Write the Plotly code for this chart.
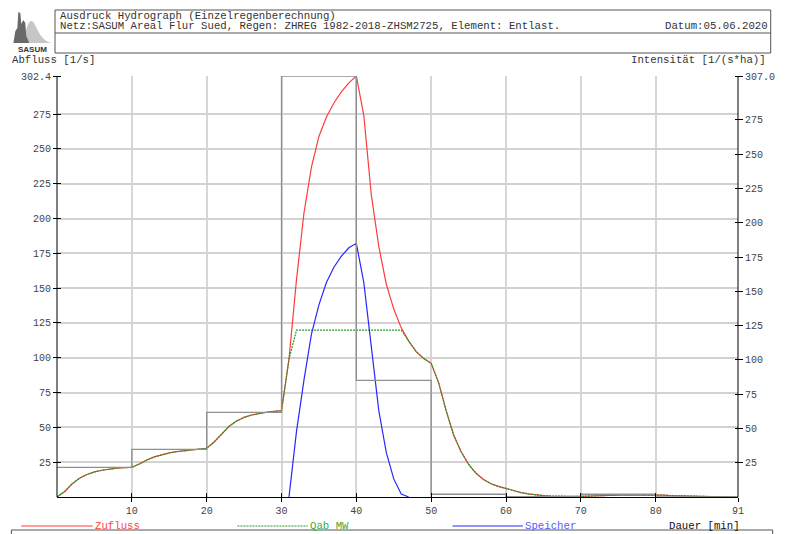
import plotly.graph_objects as go

# ---------------- data ----------------
minutes = list(range(0, 92))
zufluss = [0.0, 3.8, 9.3, 13.4, 16.2, 18.0, 19.2, 20.1, 20.7, 21.1,
           21.3, 23.7, 26.6, 28.8, 30.5, 31.7, 32.6, 33.3, 34.0, 34.5,
           35.0, 39.5, 45.5, 50.8, 54.6, 57.2, 58.9, 60.0, 60.9, 61.5,
           62.0, 99.0, 156.0, 204.0, 237.0, 259.0, 273.0, 283.0, 291.0, 297.5,
           302.4, 274.0, 217.0, 180.0, 153.0, 135.0, 121.5, 112.0, 104.4, 99.5,
           96.0, 82.0, 62.0, 44.5, 32.5, 23.5, 17.0, 12.5, 9.5, 7.6,
           6.1, 4.6, 3.2, 2.2, 1.5, 1.0, 0.7, 0.5, 0.4, 0.4,
           0.4, 0.6, 0.9, 1.1, 1.3, 1.4, 1.5, 1.5, 1.6, 1.6,
           1.6, 1.3, 1.0, 0.8, 0.6, 0.4, 0.3, 0.2, 0.15, 0.1,
           0.05, 0.0]
qab_mw = [0.0, 3.8, 9.3, 13.4, 16.2, 18.0, 19.2, 20.1, 20.7, 21.1,
          21.3, 23.7, 26.6, 28.8, 30.5, 31.7, 32.6, 33.3, 34.0, 34.5,
          35.0, 39.5, 45.5, 50.8, 54.6, 57.2, 58.9, 60.0, 60.9, 61.5,
          62.0, 99.0, 119.8, 119.8, 119.8, 119.8, 119.8, 119.8, 119.8, 119.8,
          119.8, 119.8, 119.8, 119.8, 119.8, 119.8, 119.8, 112.0, 104.4, 99.5,
          96.0, 82.0, 62.0, 44.5, 32.5, 23.5, 17.0, 12.5, 9.5, 7.6,
          6.1, 4.6, 3.2, 2.2, 1.5, 1.0, 0.7, 0.5, 0.4, 0.4,
          0.4, 0.6, 0.9, 1.1, 1.3, 1.4, 1.5, 1.5, 1.6, 1.6,
          1.6, 1.3, 1.0, 0.8, 0.6, 0.4, 0.3, 0.2, 0.15, 0.1,
          0.05, 0.0]
speicher_t = list(range(31, 48))
speicher = [0.0, 47.0, 84.0, 117.0, 138.0, 154.0, 165.0, 173.0, 179.0, 182.2,
            154.0, 107.0, 62.0, 32.0, 13.0, 2.2, 0.0]
rain_t = [0, 10, 20, 30, 40, 50, 60, 70, 80, 91]
rain = [21.6, 34.8, 61.7, 307.0, 85.1, 2.0, 0.2, 2.0, 0.0, 0.0]

x_ticks = [10, 20, 30, 40, 50, 60, 70, 80, 91]
left_ticks = [25, 50, 75, 100, 125, 150, 175, 200, 225, 250, 275, 302.4]
left_ticktext = [str(v) for v in left_ticks[:-1]] + ["302.4"]
left_max = 302.4
right_ticks = [25, 50, 75, 100, 125, 150, 175, 200, 225, 250, 275, 307.0]
right_ticktext = [str(v) for v in right_ticks[:-1]] + ["307.0"]
right_max = 307.0

# ---------------- layout geometry ----------------
W, H = 787, 534
L, R, T, B = 57, 744, 76, 497
FONT = "Liberation Mono, Courier New, monospace"


def px(x):
    return (x - L) / (R - L)


def py(y):
    return (B - y) / (B - T)


fig = go.Figure()

fig.add_trace(go.Scatter(x=rain_t, y=rain, mode="lines", line_shape="hv",
                         line=dict(color="#8f8f8f", width=1.3),
                         xaxis="x2", yaxis="y2", showlegend=False, name="Intensität"))
fig.add_trace(go.Scatter(x=minutes, y=zufluss, mode="lines",
                         line=dict(color="rgb(255,60,60)", width=1.2),
                         showlegend=False, name="Zufluss"))
fig.add_trace(go.Scatter(x=minutes, y=qab_mw, mode="lines",
                         line=dict(color="rgb(40,150,40)", width=1.2, dash="2px,1px"),
                         showlegend=False, name="Qab MW"))
fig.add_trace(go.Scatter(x=speicher_t, y=speicher, mode="lines",
                         line=dict(color="rgb(40,40,255)", width=1.2),
                         showlegend=False, name="Speicher"))

tickfont = dict(family=FONT, size=10, color="#444")

fig.update_layout(
    width=W, height=H, autosize=False,
    margin=dict(l=L, r=W - R, t=T, b=H - B, pad=0),
    paper_bgcolor="white", plot_bgcolor="white",
    xaxis=dict(range=[0, 91], tickvals=x_ticks, ticktext=[str(v) for v in x_ticks],
               ticks="outside", ticklen=4, tickcolor="black", tickwidth=1,
               showline=True, linecolor="black", linewidth=1,
               showgrid=True, gridcolor="#d6d6d6", gridwidth=1.5,
               zeroline=False, tickfont=tickfont, fixedrange=True),
    xaxis2=dict(overlaying="x", anchor="y", side="bottom", range=[0, 91],
                tickvals=x_ticks, ticks="inside", ticklen=4, tickcolor="black",
                showticklabels=False, showgrid=False, showline=False, zeroline=False),
    yaxis=dict(range=[0, left_max], tickvals=left_ticks, ticktext=left_ticktext,
               anchor="free", position=0, shift=4,
               ticks="outside", ticklen=8, tickcolor="black",
               showline=False, showgrid=True, gridcolor="#d2d2d2", gridwidth=1.5,
               zeroline=False, tickfont=tickfont, fixedrange=True),
    yaxis2=dict(overlaying="y", side="right", anchor="free", position=1, shift=-4,
                range=[0, right_max], tickvals=right_ticks, ticktext=right_ticktext,
                ticks="outside", ticklen=8, tickcolor="black",
                showline=False, showgrid=False, zeroline=False, tickfont=tickfont),
)

shapes = []
annots = []

# vertical axis lines
for xv in (0, 1):
    shapes.append(dict(type="line", xref="paper", yref="paper", x0=xv, x1=xv, y0=0, y1=1,
                       line=dict(color="black", width=1), layer="above"))

# header box
shapes.append(dict(type="rect", xref="paper", yref="paper",
                   x0=px(55), x1=px(777), y0=py(10), y1=py(53),
                   line=dict(color="#555", width=1), fillcolor="rgba(0,0,0,0)"))
shapes.append(dict(type="line", xref="paper", yref="paper",
                   x0=px(55), x1=px(777), y0=py(33), y1=py(33),
                   line=dict(color="#555", width=1)))
# logo
shapes.append(dict(type="path", xref="paper", yref="paper",
                   path="M {} {} C {} {} {} {} {} {} C {} {} {} {} {} {} Z".format(
                       px(19), py(43), px(25), py(43), px(26), py(21), px(31), py(21),
                       px(36), py(21), px(38), py(41), px(52), py(43)),
                   fillcolor="#c6c6c6", line=dict(width=0)))
shapes.append(dict(type="path", xref="paper", yref="paper",
                   path="M {} {} L {} {} L {} {} L {} {} L {} {} L {} {} L {} {} L {} {} L {} {} L {} {} Z".format(
                       px(13), py(43), px(15), py(31), px(17), py(28), px(18), py(12),
                       px(20), py(13), px(21), py(24), px(23), py(20), px(25), py(23),
                       px(26), py(36), px(29), py(43)),
                   fillcolor="#6a6a6a", line=dict(width=0)))
annots.append(dict(text="<b>SASUM</b>", x=px(32), y=py(49), xref="paper", yref="paper",
                   xanchor="center", yanchor="middle", showarrow=False,
                   font=dict(family="Liberation Sans, Arial", size=8, color="#333")))

hdr = dict(family=FONT, size=10.7, color="#333")
annots.append(dict(text="Ausdruck Hydrograph (Einzelregenberechnung)", x=px(58), y=py(15.5),
                   xref="paper", yref="paper", xanchor="left", yanchor="middle",
                   showarrow=False, font=hdr))
annots.append(dict(text="Netz:SASUM Areal Flur Sued, Regen: ZHREG 1982-2018-ZHSM2725, Element: Entlast.",
                   x=px(58), y=py(26), xref="paper", yref="paper", xanchor="left",
                   yanchor="middle", showarrow=False, font=hdr))
annots.append(dict(text="Datum:05.06.2020", x=px(776), y=py(26), xref="paper", yref="paper",
                   xanchor="right", yanchor="middle", showarrow=False, font=hdr))

# axis titles
annots.append(dict(text="Abfluss [1/s]", x=px(10), y=py(60), xref="paper", yref="paper",
                   xanchor="left", yanchor="middle", showarrow=False, font=hdr))
annots.append(dict(text="Intensität [1/(s*ha)]", x=px(774), y=py(60), xref="paper", yref="paper",
                   xanchor="right", yanchor="middle", showarrow=False, font=hdr))

# legend row
leg_y = 526
legend_items = [("Zufluss", "rgb(255,60,60)", "rgb(255,70,70)", 21, 93, "solid"),
                ("Qab MW", "rgb(40,150,40)", "rgb(60,170,60)", 239, 310, "2px,1px"),
                ("Speicher", "rgb(40,40,255)", "rgb(90,90,255)", 456, 527, "solid")]
for name, lc, tc, x0, x1, dash in legend_items:
    shapes.append(dict(type="line", xref="paper", yref="paper",
                       x0=px(x0), x1=px(x1), y0=py(leg_y), y1=py(leg_y),
                       line=dict(color=lc, width=1.2, dash=dash)))
    annots.append(dict(text=name, x=px(x1), y=py(leg_y), xref="paper", yref="paper",
                       xanchor="left", yanchor="middle", showarrow=False,
                       font=dict(family=FONT, size=10.7, color=tc)))
annots.append(dict(text="Dauer [min]", x=px(672), y=py(leg_y), xref="paper", yref="paper",
                   xanchor="left", yanchor="middle", showarrow=False,
                   font=dict(family=FONT, size=10.7, color="#111")))

# bottom box
shapes.append(dict(type="rect", xref="paper", yref="paper",
                   x0=px(11), x1=px(779), y0=py(530), y1=py(545),
                   line=dict(color="#555", width=1), fillcolor="rgba(0,0,0,0)"))

fig.update_layout(shapes=shapes, annotations=annots)

fig.write_html("out.html", config={"displayModeBar": False},
               post_script="document.body.style.margin='0';document.body.style.overflow='hidden';")
